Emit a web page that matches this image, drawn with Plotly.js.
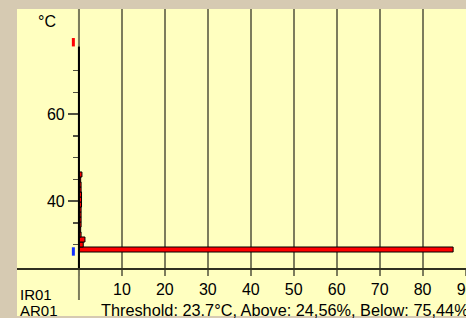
<!DOCTYPE html>
<html>
<head>
<meta charset="utf-8">
<script src="https://cdn.plot.ly/plotly-3.0.1.min.js"></script>
<style>html,body{margin:0;padding:0;background:#d6cab2;}#chart{width:466px;height:318px;}</style>
</head>
<body>
<div id="chart"></div>
<script>
// Temperature bins (°C, bin centres) and share of time (%)
const tempBins = [28.85, 30.0, 31.15, 32.3, 33.45, 34.6, 35.75, 36.9, 38.05, 39.2, 40.35, 41.5, 42.65, 43.8, 44.95, 46.1];
const sharePct = [87.1, 1.0, 1.4, 0.5, 0.4, 0.5, 0.5, 0.5, 0.5, 0.6, 0.6, 0.6, 0.5, 0.5, 0.4, 0.7];
const binWidth = 1.15;
const maxTemp = [76.5];
const minTemp = [28.4];
const markerX = [-1.3];
const xTicks = [0, 10, 20, 30, 40, 50, 60, 70, 80, 90];
const xTickText = ['', '10', '20', '30', '40', '50', '60', '70', '80', '90'];
const yTicks = [40, 60];
const yMinorTicks = [30, 35, 45, 50, 55, 65, 70];
const axisTop = 75.5;
const labelLine1 = 'IR01';
const labelLine2 = 'AR01';
const infoText = 'Threshold: 23.7°C, Above: 24,56%, Below: 75,44%';
const unitLabel = '°C';

const xRange = [-14.42, 90.1];
const yRange = [24.6, 84.14];
const W = 466, H = 318, ML = 17, MT = 9, MB = 50;
const plotW = W - ML, plotH = H - MT - MB;
const x0Paper = (0 - xRange[0]) / (xRange[1] - xRange[0]);
const gridCol = '#7c7c5c';
const font = 'Arial, "Liberation Sans", sans-serif';

const traces = [
  {
    type: 'bar', orientation: 'h',
    y: tempBins, x: sharePct, width: tempBins.map(() => binWidth),
    marker: {color: '#ff0000', line: {color: '#000000', width: 1}},
    hoverinfo: 'skip'
  },
  {
    type: 'scatter', mode: 'markers', x: markerX, y: maxTemp,
    marker: {symbol: 'line-ns', size: 6, line: {color: '#ff0000', width: 3}},
    hoverinfo: 'skip'
  },
  {
    type: 'scatter', mode: 'markers', x: markerX, y: minTemp,
    marker: {symbol: 'line-ns', size: 6, line: {color: '#1030ff', width: 3}},
    hoverinfo: 'skip'
  }
];

const layout = {
  width: W, height: H,
  margin: {l: ML, r: 0, t: MT, b: MB, pad: 0},
  paper_bgcolor: '#d6cab2',
  plot_bgcolor: 'rgba(0,0,0,0)',
  showlegend: false,
  font: {family: font, color: '#000', size: 16},
  xaxis: {
    range: xRange, tickmode: 'array', tickvals: xTicks, ticktext: xTickText,
    showgrid: true, gridcolor: gridCol, gridwidth: 2,
    ticks: 'outside', ticklen: 6, tickcolor: gridCol, tickwidth: 2,
    ticklabelstandoff: 0, ticklabeloverflow: 'allow',
    showline: true, linecolor: '#303020', linewidth: 1.5,
    zeroline: false, tickfont: {size: 16, family: font}, fixedrange: true
  },
  yaxis: {
    range: yRange, anchor: 'free', position: x0Paper,
    tickmode: 'array', tickvals: yTicks,
    ticks: 'outside', ticklen: 11, tickcolor: '#505040', tickwidth: 1.5,
    minor: {tickmode: 'array', tickvals: yMinorTicks, ticks: 'outside', ticklen: 6, tickcolor: '#505040', tickwidth: 1.5, showgrid: false},
    showgrid: false, zeroline: false, showline: false,
    tickfont: {size: 16, family: font}, fixedrange: true
  },
  shapes: [
    {type: 'rect', xref: 'paper', yref: 'paper', layer: 'below',
     x0: 0, x1: 1.01, y0: -(H - MT - plotH - 2) / plotH, y1: 1,
     fillcolor: '#ffffc0', line: {width: 0}},
    {type: 'line', xref: 'paper', yref: 'paper', layer: 'below',
     x0: x0Paper, x1: x0Paper, y0: -32 / plotH, y1: 1,
     line: {color: gridCol, width: 2}},
    {type: 'line', xref: 'x', yref: 'y', layer: 'above',
     x0: 0, x1: 0, y0: yRange[0], y1: axisTop,
     line: {color: '#000000', width: 2}}
  ],
  annotations: [
    {text: unitLabel, xref: 'paper', yref: 'paper', x: (36 - ML) / plotW, y: 1 - (21 - MT) / plotH,
     xanchor: 'left', yanchor: 'middle', showarrow: false, font: {size: 16}},
    {text: labelLine1, xref: 'paper', yref: 'paper', x: (18 - ML) / plotW, y: -(294 - MT - plotH) / plotH,
     xanchor: 'left', yanchor: 'middle', showarrow: false, font: {size: 15}},
    {text: labelLine2, xref: 'paper', yref: 'paper', x: (18 - ML) / plotW, y: -(310.5 - MT - plotH) / plotH,
     xanchor: 'left', yanchor: 'middle', showarrow: false, font: {size: 15}},
    {text: infoText, xref: 'paper', yref: 'paper', x: (99 - ML) / plotW, y: -(310 - MT - plotH) / plotH,
     xanchor: 'left', yanchor: 'middle', showarrow: false, font: {size: 16.3}}
  ]
};

Plotly.newPlot('chart', traces, layout, {displayModeBar: false, staticPlot: true});
</script>
</body>
</html>
